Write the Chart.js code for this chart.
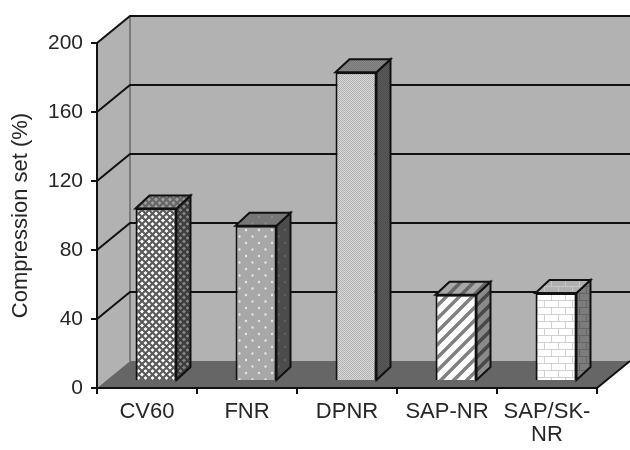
<!DOCTYPE html>
<html>
<head>
<meta charset="utf-8">
<title>Compression set</title>
<script src="https://cdn.jsdelivr.net/npm/chart.js@4"></script>
<style>
  html, body { margin: 0; padding: 0; background: #fff; }
  canvas { display: block; }
</style>
</head>
<body>
<canvas id="chart" width="630" height="450"></canvas>
<script>
const categories = ['CV60', 'FNR', 'DPNR', 'SAP-NR', ['SAP/SK-', 'NR']];
const compressionSet = [100, 90, 179, 50, 51];
const yMin = 0;
const yMax = 200;
const yStep = 40;

const WALL = '#b2b2b2';
const FLOOR = '#666666';
const INK = '#111111';
const TEXT = '#262626';

// offset of the back wall from the front axes
const DEPTH_X = 33;
const DEPTH_Y = 27;
// bars stand part way into the floor, and have their own depth
const BAR_SHIFT_X = 9;
const BAR_SHIFT_Y = 7;
const BAR_DEPTH_X = 14;
const BAR_DEPTH_Y = 13;

// Each tile painter takes a background and a foreground colour
function tile(w, h, bg, paint) {
    const c = document.createElement('canvas');
    c.width = w;
    c.height = h;
    const g = c.getContext('2d');
    g.fillStyle = bg;
    g.fillRect(0, 0, w, h);
    paint(g);
    return document.createElement('canvas').getContext('2d').createPattern(c, 'repeat');
}

function lattice(bg, fg) {
    return tile(7, 7, bg, g => {
        g.strokeStyle = fg;
        g.lineWidth = 2.2;
        g.beginPath();
        g.moveTo(0, 0); g.lineTo(7, 7);
        g.moveTo(7, 0); g.lineTo(0, 7);
        g.stroke();
    });
}

function dots(bg, fg) {
    return tile(13, 13, bg, g => {
        g.fillStyle = fg;
        g.beginPath();
        g.arc(3, 3, 1.2, 0, Math.PI * 2);
        g.arc(9.5, 9.5, 1.2, 0, Math.PI * 2);
        g.fill();
    });
}

function dither(bg, fg) {
    return tile(2, 2, bg, g => {
        g.fillStyle = fg;
        g.fillRect(0, 0, 1, 1);
        g.fillRect(1, 1, 1, 1);
    });
}

function stripes(bg, fg) {
    return tile(13, 13, bg, g => {
        g.strokeStyle = fg;
        g.lineWidth = 3.5;
        g.beginPath();
        g.moveTo(-6.5, 6.5); g.lineTo(6.5, -6.5);
        g.moveTo(0, 13); g.lineTo(13, 0);
        g.moveTo(6.5, 19.5); g.lineTo(19.5, 6.5);
        g.stroke();
    });
}

function bricks(bg, fg) {
    return tile(14, 14, bg, g => {
        g.fillStyle = fg;
        g.fillRect(0, 6, 14, 1);
        g.fillRect(0, 13, 14, 1);
        g.fillRect(3, 0, 1, 6);
        g.fillRect(10, 7, 1, 6);
    });
}

const frontFill = [
    lattice('#ffffff', '#5a5a5a'),
    dots('#a8a8a8', '#e6e6e6'),
    dither('#dadada', '#b0b0b0'),
    stripes('#ffffff', '#808080'),
    bricks('#ffffff', '#d0d0d0')
];
const sideFill = [
    lattice('#858585', '#3c3c3c'),
    dots('#4c4c4c', '#626262'),
    dither('#5c5c5c', '#4c4c4c'),
    stripes('#8a8a8a', '#484848'),
    bricks('#7c7c7c', '#666666')
];
const topFill = [
    lattice('#a0a0a0', '#666666'),
    dots('#767676', '#8c8c8c'),
    dither('#8a8a8a', '#767676'),
    stripes('#a8a8a8', '#666666'),
    bricks('#b0b0b0', '#c6c6c6')
];

function poly(ctx, pts, fill, stroke, width) {
    ctx.beginPath();
    pts.forEach((p, i) => (i ? ctx.lineTo(p[0], p[1]) : ctx.moveTo(p[0], p[1])));
    ctx.closePath();
    if (fill) {
        ctx.fillStyle = fill;
        ctx.fill();
    }
    if (stroke) {
        ctx.strokeStyle = stroke;
        ctx.lineWidth = width;
        ctx.lineJoin = 'miter';
        ctx.stroke();
    }
}

// Box walls, floor and gridlines behind the axes
const wallsPlugin = {
    id: 'walls',
    beforeDraw(chart) {
        const { ctx, scales: { y }, chartArea: { left, right, top, bottom } } = chart;
        const backLeft = left + DEPTH_X;
        const backRight = right + DEPTH_X;
        ctx.save();
        ctx.fillStyle = WALL;
        ctx.fillRect(backLeft, top - DEPTH_Y, backRight - backLeft, bottom - top);
        poly(ctx, [[left, top], [backLeft, top - DEPTH_Y], [backLeft, bottom - DEPTH_Y], [left, bottom]], WALL);
        poly(ctx, [[left, bottom], [backLeft, bottom - DEPTH_Y], [backRight, bottom - DEPTH_Y], [right, bottom]], FLOOR);

        ctx.strokeStyle = '#7a7a7a';
        ctx.lineWidth = 2;
        ctx.beginPath();
        ctx.moveTo(backLeft, top - DEPTH_Y);
        ctx.lineTo(backLeft, bottom - DEPTH_Y);
        ctx.stroke();

        ctx.strokeStyle = INK;
        ctx.lineWidth = 2;
        y.ticks.forEach(t => {
            if (t.value === yMin) return;
            const py = y.getPixelForValue(t.value);
            ctx.beginPath();
            ctx.moveTo(left, py);
            ctx.lineTo(backLeft, py - DEPTH_Y);
            ctx.lineTo(backRight, py - DEPTH_Y);
            ctx.stroke();
        });
        ctx.beginPath();
        ctx.moveTo(right, bottom);
        ctx.lineTo(backRight, bottom - DEPTH_Y);
        ctx.stroke();
        ctx.restore();
    }
};

// Shifts the bars onto the floor and adds their top and side faces
const boxPlugin = {
    id: 'boxes',
    beforeDatasetDraw(chart, args) {
        const { ctx } = chart;
        ctx.save();
        ctx.translate(BAR_SHIFT_X, -BAR_SHIFT_Y);
        args.meta.data.forEach((bar, i) => {
            const { x, y, base, width } = bar.getProps(['x', 'y', 'base', 'width'], true);
            const l = x - width / 2;
            const r = x + width / 2;
            poly(ctx, [[r, y], [r + BAR_DEPTH_X, y - BAR_DEPTH_Y], [r + BAR_DEPTH_X, base - BAR_DEPTH_Y], [r, base]], sideFill[i], INK, 2);
            poly(ctx, [[l, y], [l + BAR_DEPTH_X, y - BAR_DEPTH_Y], [r + BAR_DEPTH_X, y - BAR_DEPTH_Y], [r, y]], topFill[i], INK, 2);
        });
    },
    afterDatasetDraw(chart) {
        chart.ctx.restore();
    }
};

new Chart(document.getElementById('chart'), {
    type: 'bar',
    data: {
        labels: categories,
        datasets: [{
            data: compressionSet,
            backgroundColor: frontFill,
            borderColor: INK,
            borderWidth: 2,
            categoryPercentage: 1,
            barPercentage: 0.41,
            clip: false
        }]
    },
    options: {
        responsive: false,
        animation: false,
        layout: { padding: { top: 43, right: 33, left: 0, bottom: 0 } },
        plugins: {
            legend: { display: false },
            tooltip: { enabled: false }
        },
        scales: {
            x: {
                afterFit: s => { s.height = 62; },
                border: { color: INK, width: 2 },
                grid: { offset: true, drawOnChartArea: false, color: INK, lineWidth: 2, tickLength: 6 },
                ticks: {
                    color: TEXT,
                    padding: 7,
                    maxRotation: 0,
                    autoSkip: false,
                    font: { family: 'Liberation Sans', size: 22, lineHeight: 1.02 }
                }
            },
            y: {
                min: yMin,
                max: yMax,
                afterFit: s => { s.width = 97; },
                border: { color: INK, width: 2 },
                grid: { drawOnChartArea: false, color: INK, lineWidth: 2, tickLength: 6 },
                ticks: {
                    stepSize: yStep,
                    color: TEXT,
                    padding: 8,
                    font: { family: 'Liberation Sans', size: 21 }
                },
                title: {
                    display: true,
                    text: 'Compression set (%)',
                    color: TEXT,
                    padding: { top: 8, bottom: 0 },
                    font: { family: 'Liberation Sans', size: 22 }
                }
            }
        }
    },
    plugins: [wallsPlugin, boxPlugin]
});
</script>
</body>
</html>
